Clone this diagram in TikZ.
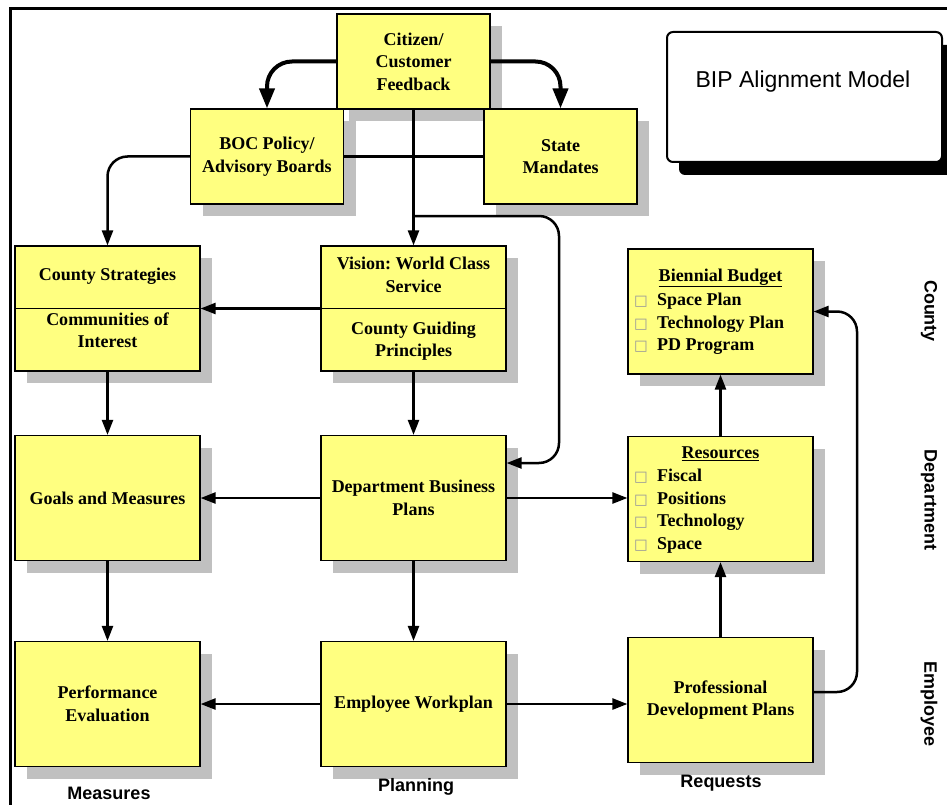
\documentclass[tikz,border=0pt]{standalone}
\usepackage{fontspec}
\setmainfont{Liberation Serif}
\newfontfamily\arialf{Liberation Sans}
\newfontfamily\dejavuf{DejaVu Sans}
\usetikzlibrary{arrows.meta,shadows}
\definecolor{boxyellow}{RGB}{255,255,128}
\definecolor{shadowgray}{RGB}{192,192,192}
\newcommand\sqbul{\makebox[23pt][l]{\raisebox{0pt}{\fontsize{14.5}{14.5}\dejavuf\color{black!40}□}}}
\frenchspacing
\begin{document}
\begin{tikzpicture}[x=1pt,y=-1pt,
  ybox/.style={draw, line width=1.2pt, fill=boxyellow, inner sep=0pt, align=center,
    font=\bfseries\fontsize{18}{22.5}\selectfont,
    drop shadow={shadow xshift=12pt, shadow yshift=-12pt, fill=shadowgray, opacity=1, draw=none}},
  smallbox/.style={ybox, minimum width=153pt, minimum height=95pt},
  bigbox/.style={ybox, minimum width=185pt, minimum height=125pt},
  btext/.style={inner sep=0pt, align=center, font=\bfseries\fontsize{18}{22.5}\selectfont},
  ltext/.style={inner sep=0pt, align=left, font=\bfseries\fontsize{18}{22.5}\selectfont},
  side/.style={inner sep=0pt, font=\arialf\bfseries\fontsize{18}{21}\selectfont},
  conn/.style={line width=2.5pt, -{Triangle[length=15pt,width=11pt]}},
  plain/.style={line width=2.5pt},
  bigconn/.style={line width=4pt, -{Triangle[length=20pt,width=15pt]}},
  divider/.style={line width=1.2pt}
]
\useasboundingbox (0,0) rectangle (947,805);
\fill[white] (0,0) rectangle (947,805);
% frame
\draw[line width=3pt] (10,805) -- (10,9) -- (947,9);

% title box
\node[draw, line width=2pt, rounded corners=6pt, fill=white, minimum width=275pt, minimum height=130pt,
  drop shadow={shadow xshift=12pt, shadow yshift=-13pt, fill=black, opacity=1}] (bip) at (804.5,97) {};
\node[inner sep=0pt, font=\arialf\fontsize{23}{26}\selectfont] (biptitle) at (803,82) {BIP Alignment Model};

% boxes
\node[smallbox] (cit) at (413.5,61.5) {Citizen/\\Customer\\Feedback};
\node[smallbox] (boc) at (267,156.5) {BOC Policy/\\Advisory Boards};
\node[smallbox] (sta) at (560.5,156.5) {State\\Mandates};

\node[bigbox] (cs) at (107.5,308.5) {};
\node[btext] (cs1) at (107.5,276) {County Strategies};
\node[btext] (cs2) at (107.5,330) {Communities of\\Interest};
\draw[divider] (cs.west) -- (cs.east);

\node[bigbox] (vis) at (413.5,308.5) {};
\node[btext] (vis1) at (413.5,275) {Vision: World Class\\Service};
\node[btext] (vis2) at (413.5,341) {County Guiding\\Principles};
\draw[divider] (vis.west) -- (vis.east);

\node[bigbox] (bud) at (720.5,311.5) {};
\node[btext] (budt) at (720.5,278) {\underline{Biennial Budget}};
\node[ltext, anchor=west] (budl) at (634,324) {\sqbul Space Plan\\ \sqbul Technology Plan\\ \sqbul PD Program};

\node[bigbox] (gm) at (107.5,498) {Goals and Measures};
\node[bigbox] (dbp) at (413.5,498) {Department Business\\Plans};

\node[bigbox] (res) at (720.5,499) {};
\node[btext] (rest) at (720.5,454) {\underline{Resources}};
\node[ltext, anchor=west] (resl) at (634,511) {\sqbul Fiscal\\ \sqbul Positions\\ \sqbul Technology\\ \sqbul Space};

\node[bigbox] (pe) at (107.5,704) {Performance\\Evaluation};
\node[bigbox] (ew) at (413.5,704) {Employee Workplan};
\node[bigbox] (pdp) at (720.5,700) {Professional\\Development Plans};

% side labels
\node[side, rotate=-90] (lcounty) at (929,311) {County};
\node[side, rotate=-90] (ldept) at (929,500) {Department};
\node[side, rotate=-90] (lemp) at (929,704) {Employee};
\node[side] (lmeas) at (109,793) {Measures};
\node[side] (lplan) at (416,787) {Planning};
\node[side] (lreq) at (721,783) {Requests};

% connectors
\draw[bigconn, rounded corners=25pt] (cit.west) -| (boc.north);
\draw[bigconn, rounded corners=25pt] (cit.east) -| (sta.north);
\draw[plain] (sta.west) -- (boc.east);
\draw[conn, rounded corners=20pt] (boc.west) -| (cs.north);
\draw[conn] (cit.south) -- (vis.north);
\coordinate (br) at (413.5,216);
\coordinate (brc) at (559,216);
\draw[conn, rounded corners=20pt] (br) -- (brc) |- ([yshift=35pt]dbp.east);
\draw[conn] (vis.west) -- (cs.east);
\draw[conn] (cs.south) -- (gm.north);
\draw[conn] (vis.south) -- (dbp.north);
\draw[conn] (dbp.west) -- (gm.east);
\draw[conn] (dbp.east) -- (dbp.east -| res.west);
\draw[conn] (gm.south) -- (pe.north);
\draw[conn] (dbp.south) -- (ew.north);
\draw[conn] (ew.west) -- (pe.east);
\draw[conn] (ew.east) -- (ew.east -| pdp.west);
\draw[conn] (res.north) -- (bud.south);
\draw[conn] (pdp.north) -- (res.south);
\coordinate (rc) at (857,500);
\draw[conn, rounded corners=20pt] ([yshift=8pt]pdp.east) -| (rc) |- (bud.east);
\end{tikzpicture}
\end{document}
